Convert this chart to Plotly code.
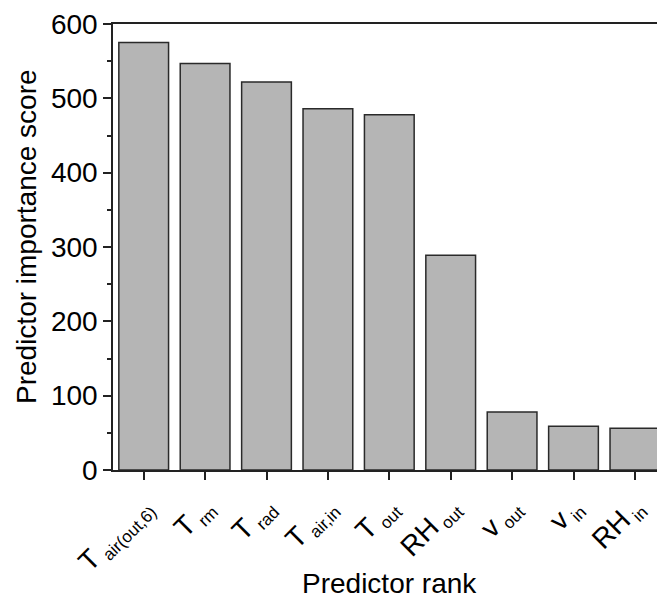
import plotly.graph_objects as go

main_labels = ["T", "T", "T", "T", "T", "RH", "v", "v", "RH"]
sub_labels = ["air(out,6)", "rm", "rad", "air,in", "out", "out", "out", "in", "in"]
scores = [575, 547, 522, 486, 478, 289, 78, 59, 56]
y_ticks = [0, 100, 200, 300, 400, 500, 600]

categories = [f"{m}<sub><span style='font-size:17px'>\u00a0{s}</span></sub>"
              for m, s in zip(main_labels, sub_labels)]

fig = go.Figure()
fig.add_trace(go.Bar(
    x=list(range(len(categories))), y=scores,
    marker=dict(color="#b5b5b5", line=dict(color="#2a2a2a", width=1.5)),
    width=0.81,
))

font_family = "Liberation Sans, Arial, sans-serif"
fig.update_layout(
    width=657, height=598,
    margin=dict(l=113, r=0, t=24, b=128),
    paper_bgcolor="white", plot_bgcolor="white",
    showlegend=False,
    font=dict(family=font_family, color="black"),
    xaxis=dict(
        range=[-0.5, 8.36], automargin=False,
        tickmode="array", tickvals=list(range(len(categories))), ticktext=categories,
        tickangle=-45, tickfont=dict(size=28),
        showline=True, linecolor="#222", linewidth=1.5, mirror=True,
        ticks="outside", ticklen=8, tickwidth=1.5, tickcolor="#222",
        showgrid=False, zeroline=False,
    ),
    yaxis=dict(
        range=[0, 600], automargin=False,
        tickmode="array", tickvals=y_ticks, ticktext=[str(v) for v in y_ticks],
        tickfont=dict(size=28),
        showline=True, linecolor="#222", linewidth=1.5,
        ticks="outside", ticklen=8, tickwidth=1.5, tickcolor="#222",
        minor=dict(dtick=50, ticks="outside", ticklen=4, tickwidth=1.5, tickcolor="#222", showgrid=False),
        showgrid=False, zeroline=False,
    ),
    annotations=[
        dict(text="Predictor rank", xref="paper", yref="paper",
             x=(389 - 113) / 544, y=-(583 - 470) / 446,
             xanchor="center", yanchor="middle", showarrow=False,
             font=dict(size=28)),
        dict(text="Predictor importance score", xref="paper", yref="paper",
             x=-(113 - 26) / 544, y=(470 - 237) / 446,
             xanchor="center", yanchor="middle", showarrow=False, textangle=-90,
             font=dict(size=28)),
    ],
)

fig.write_html("out.html")
